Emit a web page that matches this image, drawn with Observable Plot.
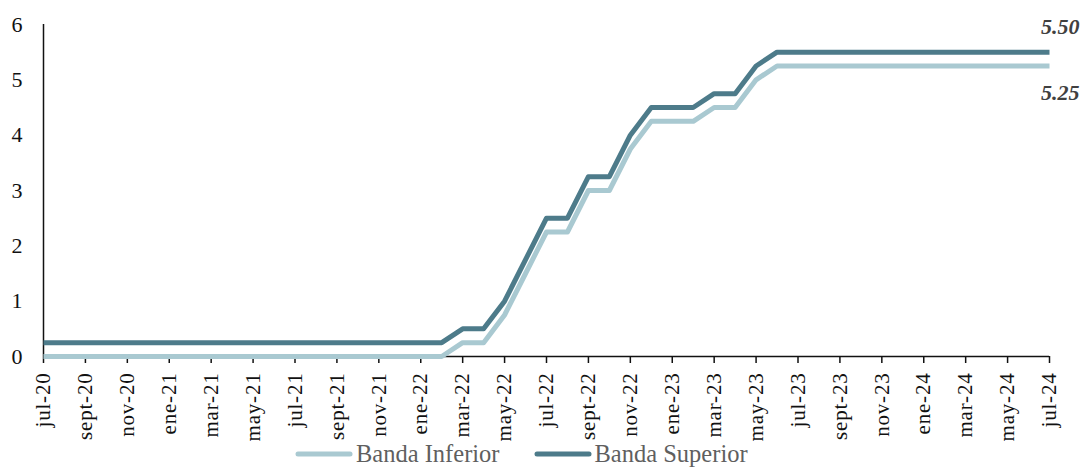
<!DOCTYPE html>
<html>
<head>
<meta charset="utf-8">
<script src="https://cdn.jsdelivr.net/npm/d3@7"></script>
<script src="https://cdn.jsdelivr.net/npm/@observablehq/plot@0.6"></script>
<style>
  html, body { margin: 0; padding: 0; background: #fff; }
  #wrap { position: relative; width: 1083px; height: 468px; overflow: hidden; font-family: "Liberation Serif", serif; }
  #legend { position: absolute; left: 295px; top: 442px; display: flex; align-items: center; font-size: 24.5px; line-height: 24.5px; color: #5f5f5f; }
  .item { display: flex; align-items: center; margin-right: 34px; }
  .item svg { margin-right: 3px; }
  g[aria-label="x-axis tick label"] text { font-size: 21px; letter-spacing: 0.8px; }
</style>
</head>
<body>
<div id="wrap"><div id="chart"></div><div id="legend"></div></div>
<script>
const months = ["jul-20","ago-20","sept-20","oct-20","nov-20","dic-20",
  "ene-21","feb-21","mar-21","abr-21","may-21","jun-21","jul-21","ago-21","sept-21","oct-21","nov-21","dic-21",
  "ene-22","feb-22","mar-22","abr-22","may-22","jun-22","jul-22","ago-22","sept-22","oct-22","nov-22","dic-22",
  "ene-23","feb-23","mar-23","abr-23","may-23","jun-23","jul-23","ago-23","sept-23","oct-23","nov-23","dic-23",
  "ene-24","feb-24","mar-24","abr-24","may-24","jun-24","jul-24"];

const bandaInferior = [0,0,0,0,0,0,
  0,0,0,0,0,0,0,0,0,0,0,0,
  0,0,0.25,0.25,0.75,1.5,2.25,2.25,3.0,3.0,3.75,4.25,
  4.25,4.25,4.5,4.5,5.0,5.25,5.25,5.25,5.25,5.25,5.25,5.25,
  5.25,5.25,5.25,5.25,5.25,5.25,5.25];

const bandaSuperior = [0.25,0.25,0.25,0.25,0.25,0.25,
  0.25,0.25,0.25,0.25,0.25,0.25,0.25,0.25,0.25,0.25,0.25,0.25,
  0.25,0.25,0.5,0.5,1.0,1.75,2.5,2.5,3.25,3.25,4.0,4.5,
  4.5,4.5,4.75,4.75,5.25,5.5,5.5,5.5,5.5,5.5,5.5,5.5,
  5.5,5.5,5.5,5.5,5.5,5.5,5.5];

const tickLabels = ["jul-20","sept-20","nov-20","ene-21","mar-21","may-21","jul-21","sept-21","nov-21",
  "ene-22","mar-22","may-22","jul-22","sept-22","nov-22","ene-23","mar-23","may-23","jul-23","sept-23",
  "nov-23","ene-24","mar-24","may-24","jul-24"];

const yTicks = [0,1,2,3,4,5,6];

const seriesNames = ["Banda Inferior", "Banda Superior"];
const colors = ["#a9c9d1", "#4d7b8a"];

const inf = months.map((m, i) => ({month: m, value: bandaInferior[i]}));
const sup = months.map((m, i) => ({month: m, value: bandaSuperior[i]}));
const last = months.length - 1;

const chart = Plot.plot({
  width: 1083,
  height: 444,
  marginLeft: 43,
  marginRight: 34,
  marginTop: 24,
  marginBottom: 88,
  style: {fontFamily: "Liberation Serif, serif", background: "#fff", color: "#111"},
  x: {type: "point", domain: months, padding: 0, label: null},
  y: {domain: [0, 6], label: null},
  marks: [
    Plot.ruleX([months[0]], {stroke: "#111", strokeWidth: 1.5}),
    Plot.ruleY([0], {stroke: "#111", strokeWidth: 1.5}),
    Plot.axisY({ticks: yTicks, tickFormat: d3.format("d"), tickSize: 0, tickPadding: 21, fontSize: 22, label: null, fill: "#111"}),
    Plot.axisX({ticks: tickLabels, tickSize: 7, tickRotate: -90, tickPadding: 9, fontSize: 21, label: null, stroke: "#111", strokeWidth: 1.5, fill: "#111"}),
    Plot.line(inf, {x: "month", y: "value", stroke: colors[0], strokeWidth: 5, strokeLinecap: "butt"}),
    Plot.line(sup, {x: "month", y: "value", stroke: colors[1], strokeWidth: 5, strokeLinecap: "butt"}),
    Plot.text([sup[last]], {x: "month", y: "value", text: d => d.value.toFixed(2), dx: 30, dy: -25, textAnchor: "end",
      fontSize: 22, fontWeight: "bold", fontStyle: "italic", fill: "#404040"}),
    Plot.text([inf[last]], {x: "month", y: "value", text: d => d.value.toFixed(2), dx: 30, dy: 27, textAnchor: "end",
      fontSize: 22, fontWeight: "bold", fontStyle: "italic", fill: "#404040"})
  ]
});

document.getElementById("chart").appendChild(chart);

const legend = d3.select("#legend");
seriesNames.forEach((name, i) => {
  const item = legend.append("div").attr("class", "item");
  const sw = item.append("svg").attr("width", 58).attr("height", 10);
  sw.append("line").attr("x1", 3).attr("x2", 55).attr("y1", 5).attr("y2", 5)
    .attr("stroke", colors[i]).attr("stroke-width", 5).attr("stroke-linecap", "round");
  item.append("span").text(name);
});
</script>
</body>
</html>
